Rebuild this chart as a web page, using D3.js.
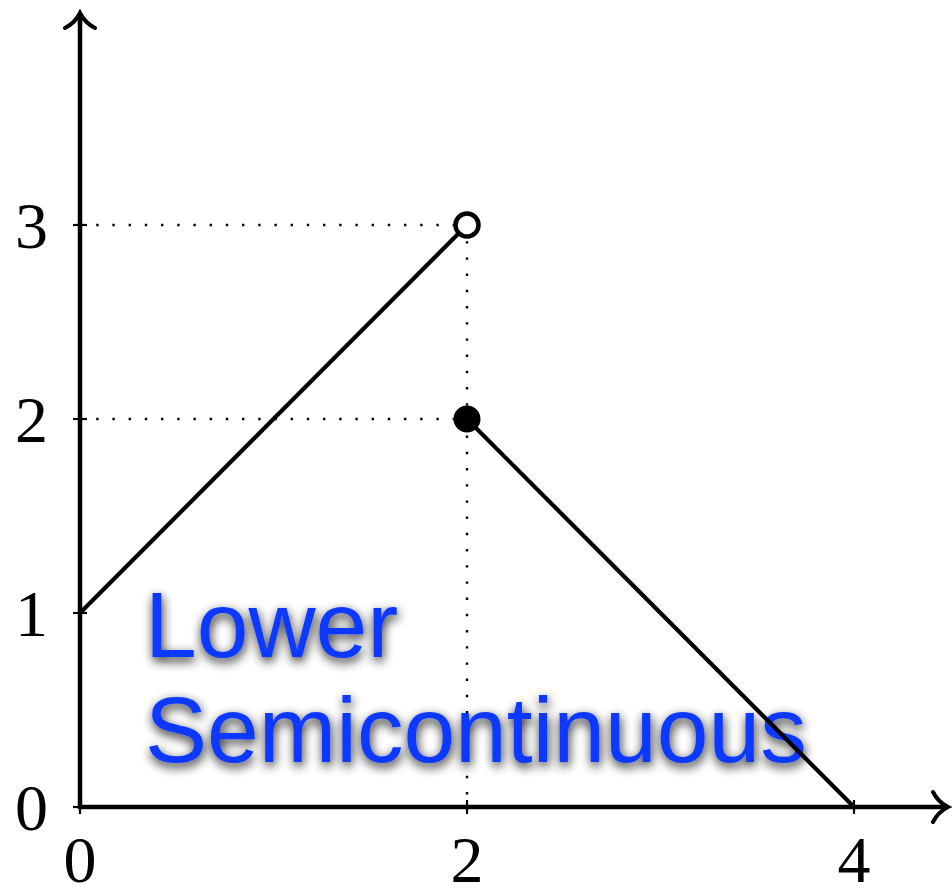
<!DOCTYPE html>
<html>
<head>
<meta charset="utf-8">
<script src="https://cdnjs.cloudflare.com/ajax/libs/d3/7.8.5/d3.min.js"></script>
<style>
  body { margin:0; background:#fff; }
</style>
</head>
<body>
<div id="chart"></div>
<script>
// data
var xTicks = [0, 2, 4];
var yTicks = [0, 1, 2, 3];
var leftPiece = [[0, 1], [2, 3]];
var rightPiece = [[2, 2], [4, 0]];
var openPoint = [2, 3];
var closedPoint = [2, 2];
var guideX = [2];
var guideY = [2, 3];
var labelLines = ["Lower", "Semicontinuous"];

var W = 952, H = 888;

var svg = d3.select("#chart").append("svg")
    .attr("width", W)
    .attr("height", H);

var x = d3.scaleLinear().domain([0, 4]).range([80, 854]);
var y = d3.scaleLinear().domain([0, 3]).range([807, 225]);

// shadow filter for the label
var defs = svg.append("defs");
var f = defs.append("filter").attr("id", "shadow")
    .attr("x", "-10%").attr("y", "-30%").attr("width", "120%").attr("height", "160%");
f.append("feGaussianBlur").attr("in", "SourceAlpha").attr("stdDeviation", 5.5).attr("result", "blur");
f.append("feOffset").attr("in", "blur").attr("dx", 1).attr("dy", 4).attr("result", "off");
f.append("feComponentTransfer").attr("in", "off").attr("result", "sh")
  .append("feFuncA").attr("type", "linear").attr("slope", 0.9);
var fm = f.append("feMerge");
fm.append("feMergeNode").attr("in", "sh");
fm.append("feMergeNode").attr("in", "SourceGraphic");

// dotted guides
guideY.forEach(function(v) {
    svg.append("line")
        .attr("x1", x(0)).attr("x2", x(2))
        .attr("y1", y(v)).attr("y2", y(v))
        .attr("stroke", "#000").attr("stroke-width", 2.4)
        .attr("stroke-dasharray", "2.4,13.8");
});
guideX.forEach(function(v) {
    svg.append("line")
        .attr("x1", x(v)).attr("x2", x(v))
        .attr("y1", y(3)).attr("y2", y(0))
        .attr("stroke", "#000").attr("stroke-width", 2.4)
        .attr("stroke-dasharray", "2.4,13.8");
});

// label with blurred shadow
var label = svg.append("text")
    .attr("font-family", "Liberation Sans, Arial, sans-serif")
    .attr("font-size", 93)
    .attr("fill", "#0a38ff")
    .attr("filter", "url(#shadow)");
label.selectAll("tspan").data(labelLines).enter().append("tspan")
    .attr("x", 145)
    .attr("y", function(d, i) { return 657 + i * 105; })
    .text(function(d) { return d; });

// axes
var axisW = 4.5;
svg.append("line")
    .attr("x1", x(0) - 2).attr("x2", 944)
    .attr("y1", y(0)).attr("y2", y(0))
    .attr("stroke", "#000").attr("stroke-width", axisW);
svg.append("line")
    .attr("x1", x(0)).attr("x2", x(0))
    .attr("y1", y(0) + 2).attr("y2", 16)
    .attr("stroke", "#000").attr("stroke-width", axisW);

// arrow heads (latex style)
svg.append("path")
    .attr("d", "M" + (x(0) - 15) + ",28 Q" + (x(0) - 5) + ",23 " + x(0) + ",13 Q" + (x(0) + 5) + ",23 " + (x(0) + 15) + ",28")
    .attr("fill", "none").attr("stroke", "#000").attr("stroke-width", 4).attr("stroke-linecap", "round");
svg.append("path")
    .attr("d", "M933," + (y(0) - 15) + " Q938," + (y(0) - 5) + " 948," + y(0) + " Q938," + (y(0) + 5) + " 933," + (y(0) + 15))
    .attr("fill", "none").attr("stroke", "#000").attr("stroke-width", 4).attr("stroke-linecap", "round");

// ticks
svg.selectAll(".ytick").data(yTicks).enter().append("line")
    .attr("x1", x(0) - 7).attr("x2", x(0) + 7)
    .attr("y1", function(d) { return y(d); }).attr("y2", function(d) { return y(d); })
    .attr("stroke", "#000").attr("stroke-width", 2.2);
svg.selectAll(".xtick").data(xTicks).enter().append("line")
    .attr("x1", function(d) { return x(d); }).attr("x2", function(d) { return x(d); })
    .attr("y1", y(0) - 7).attr("y2", y(0) + 7)
    .attr("stroke", "#000").attr("stroke-width", 2.2);

// tick labels
svg.selectAll(".ylab").data(yTicks).enter().append("text")
    .attr("x", 48)
    .attr("y", function(d) { return y(d) + 23; })
    .attr("text-anchor", "end")
    .attr("font-family", "Liberation Serif, Times New Roman, serif")
    .attr("font-size", 66)
    .text(function(d) { return d; });
svg.selectAll(".xlab").data(xTicks).enter().append("text")
    .attr("x", function(d) { return x(d); })
    .attr("y", 882)
    .attr("text-anchor", "middle")
    .attr("font-family", "Liberation Serif, Times New Roman, serif")
    .attr("font-size", 66)
    .text(function(d) { return d; });

// function pieces
var line = d3.line()
    .x(function(d) { return x(d[0]); })
    .y(function(d) { return y(d[1]); });
svg.append("path").datum(leftPiece)
    .attr("d", line).attr("fill", "none")
    .attr("stroke", "#000").attr("stroke-width", 4.2);
svg.append("path").datum(rightPiece)
    .attr("d", line).attr("fill", "none")
    .attr("stroke", "#000").attr("stroke-width", 4.2);

// endpoints
svg.append("circle")
    .attr("cx", x(openPoint[0])).attr("cy", y(openPoint[1])).attr("r", 11.5)
    .attr("fill", "#fff").attr("stroke", "#000").attr("stroke-width", 4.5);
svg.append("circle")
    .attr("cx", x(closedPoint[0])).attr("cy", y(closedPoint[1])).attr("r", 13.5)
    .attr("fill", "#000");
</script>
</body>
</html>
